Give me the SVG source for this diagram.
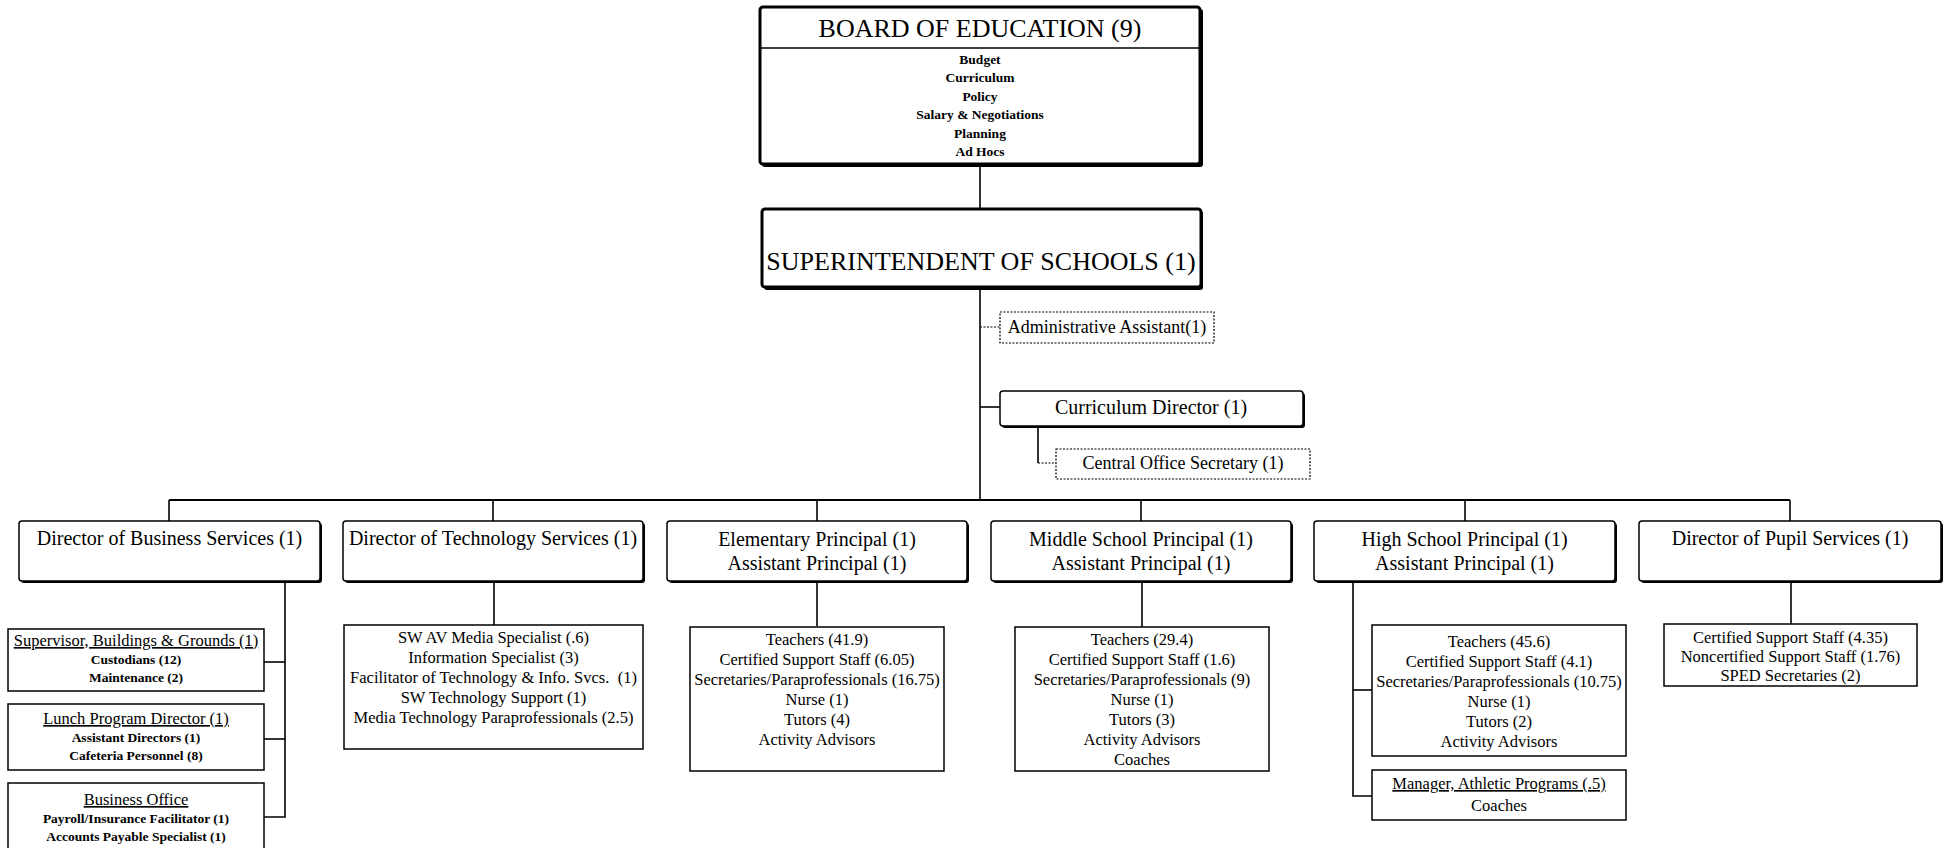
<svg xmlns="http://www.w3.org/2000/svg" width="1944" height="848" viewBox="0 0 1944 848">
<style>
text{font-family:"Liberation Serif","Times New Roman",serif;text-anchor:middle;fill:#000}
.bx{fill:#fff;stroke:#000;stroke-width:1.5}
.thk{fill:#fff;stroke:#000;stroke-width:3}
.sh{fill:#000}
.dsh{fill:#fff;stroke:#000;stroke-width:1.2;stroke-dasharray:2 1.5}
.ln{stroke:#000;stroke-width:1.6;fill:none}
.dl{stroke:#000;stroke-width:1.2;fill:none;stroke-dasharray:2 1.5}
.t26{font-size:26px}
.t20{font-size:20px}
.t18{font-size:18px}
.t16{font-size:16.5px}
.u16{font-size:16.5px;text-decoration:underline}
.b13{font-size:13.5px;font-weight:bold}
</style>
<rect width="1944" height="848" fill="#fff"/>
<g id="connectors">
<line class="ln" x1="980" y1="164" x2="980" y2="209"/>
<line class="ln" x1="980" y1="288" x2="980" y2="500"/>
<line class="dl" x1="980" y1="327" x2="1000" y2="327"/>
<line class="ln" x1="980" y1="407" x2="1000" y2="407"/>
<polyline class="ln" points="1038,427 1038,463"/>
<line class="dl" x1="1038" y1="463" x2="1056" y2="463"/>
<line class="ln" x1="169" y1="500" x2="1790" y2="500" style="stroke-width:2.2"/>
<line class="ln" x1="169" y1="500" x2="169" y2="521"/>
<line class="ln" x1="493" y1="500" x2="493" y2="521"/>
<line class="ln" x1="817" y1="500" x2="817" y2="521"/>
<line class="ln" x1="1141" y1="500" x2="1141" y2="521"/>
<line class="ln" x1="1465" y1="500" x2="1465" y2="521"/>
<line class="ln" x1="1790" y1="500" x2="1790" y2="521"/>
<polyline class="ln" points="285,582 285,817 264,817"/>
<line class="ln" x1="264" y1="662" x2="285" y2="662"/>
<line class="ln" x1="264" y1="739" x2="285" y2="739"/>
<line class="ln" x1="494" y1="582" x2="494" y2="626"/>
<line class="ln" x1="817" y1="582" x2="817" y2="626"/>
<line class="ln" x1="1142" y1="582" x2="1142" y2="627"/>
<polyline class="ln" points="1353,582 1353,796 1372,796"/>
<line class="ln" x1="1353" y1="690" x2="1372" y2="690"/>
<line class="ln" x1="1791" y1="582" x2="1791" y2="624"/>
</g>
<g id="board">
<rect class="sh" x="762" y="9" width="441" height="158" rx="3"/>
<rect class="thk" x="760" y="7" width="440" height="157" rx="3"/>
<line class="ln" x1="760" y1="48" x2="1200" y2="48"/>
<text class="t26" x="980" y="37">BOARD OF EDUCATION (9)</text>
<text class="b13" x="980" y="64">Budget</text>
<text class="b13" x="980" y="82">Curriculum</text>
<text class="b13" x="980" y="100.5">Policy</text>
<text class="b13" x="980" y="119">Salary &amp; Negotiations</text>
<text class="b13" x="980" y="137.5">Planning</text>
<text class="b13" x="980" y="156">Ad Hocs</text>
</g>
<g id="superintendent">
<rect class="sh" x="764" y="211" width="439" height="79" rx="3"/>
<rect class="thk" x="762" y="209" width="439" height="78" rx="3"/>
<text class="t26" x="981" y="270">SUPERINTENDENT OF SCHOOLS (1)</text>
</g>
<g id="admin-assistant">
<rect class="dsh" x="1000" y="312" width="214" height="31"/>
<text class="t18" x="1107" y="333">Administrative Assistant(1)</text>
</g>
<g id="curriculum-director">
<rect class="sh" x="1002" y="393" width="303" height="35" rx="3"/>
<rect class="bx" x="1000" y="391" width="303" height="35" rx="3"/>
<text class="t20" x="1151" y="414">Curriculum Director (1)</text>
</g>
<g id="central-office-secretary">
<rect class="dsh" x="1056" y="449" width="254" height="30"/>
<text class="t18" x="1183" y="469">Central Office Secretary (1)</text>
</g>
<g id="business-services">
<rect class="sh" x="21" y="523" width="301" height="60" rx="3"/>
<rect class="bx" x="19" y="521" width="301" height="60" rx="3"/>
<text class="t20" x="169.5" y="545">Director of Business Services (1)</text>
</g>
<g id="technology-services">
<rect class="sh" x="345" y="523" width="300" height="60" rx="3"/>
<rect class="bx" x="343" y="521" width="300" height="60" rx="3"/>
<text class="t20" x="493" y="545">Director of Technology Services (1)</text>
</g>
<g id="elementary-principal">
<rect class="sh" x="669" y="523" width="300" height="60" rx="3"/>
<rect class="bx" x="667" y="521" width="300" height="60" rx="3"/>
<text class="t20" x="817" y="546">Elementary Principal (1)</text>
<text class="t20" x="817" y="570">Assistant Principal (1)</text>
</g>
<g id="middle-principal">
<rect class="sh" x="993" y="523" width="300" height="60" rx="3"/>
<rect class="bx" x="991" y="521" width="300" height="60" rx="3"/>
<text class="t20" x="1141" y="546">Middle School Principal (1)</text>
<text class="t20" x="1141" y="570">Assistant Principal (1)</text>
</g>
<g id="high-principal">
<rect class="sh" x="1316" y="523" width="301" height="60" rx="3"/>
<rect class="bx" x="1314" y="521" width="301" height="60" rx="3"/>
<text class="t20" x="1464.5" y="546">High School Principal (1)</text>
<text class="t20" x="1464.5" y="570">Assistant Principal (1)</text>
</g>
<g id="pupil-services">
<rect class="sh" x="1641" y="523" width="302" height="60" rx="3"/>
<rect class="bx" x="1639" y="521" width="302" height="60" rx="3"/>
<text class="t20" x="1790" y="545">Director of Pupil Services (1)</text>
</g>
<g id="buildings-grounds">
<rect class="bx" x="8" y="629" width="256" height="62"/>
<text class="u16" x="136" y="646">Supervisor, Buildings &amp; Grounds (1)</text>
<text class="b13" x="136" y="664">Custodians (12)</text>
<text class="b13" x="136" y="682">Maintenance (2)</text>
</g>
<g id="lunch-program">
<rect class="bx" x="8" y="704" width="256" height="66"/>
<text class="u16" x="136" y="724">Lunch Program Director (1)</text>
<text class="b13" x="136" y="742">Assistant Directors (1)</text>
<text class="b13" x="136" y="760">Cafeteria Personnel (8)</text>
</g>
<g id="business-office">
<rect class="bx" x="8" y="783" width="256" height="70"/>
<text class="u16" x="136" y="805">Business Office</text>
<text class="b13" x="136" y="823">Payroll/Insurance Facilitator (1)</text>
<text class="b13" x="136" y="841">Accounts Payable Specialist (1)</text>
</g>
<g id="technology-staff">
<rect class="bx" x="344" y="625" width="299" height="124"/>
<text class="t16" x="493.5" y="643">SW AV Media Specialist (.6)</text>
<text class="t16" x="493.5" y="663">Information Specialist (3)</text>
<text class="t16" x="493.5" y="683" xml:space="preserve">Facilitator of Technology &amp; Info. Svcs.  (1)</text>
<text class="t16" x="493.5" y="703">SW Technology Support (1)</text>
<text class="t16" x="493.5" y="723">Media Technology Paraprofessionals (2.5)</text>
</g>
<g id="elementary-staff">
<rect class="bx" x="690" y="627" width="254" height="144"/>
<text class="t16" x="817" y="645">Teachers (41.9)</text>
<text class="t16" x="817" y="665">Certified Support Staff (6.05)</text>
<text class="t16" x="817" y="685">Secretaries/Paraprofessionals (16.75)</text>
<text class="t16" x="817" y="705">Nurse (1)</text>
<text class="t16" x="817" y="725">Tutors (4)</text>
<text class="t16" x="817" y="745">Activity Advisors</text>
</g>
<g id="middle-staff">
<rect class="bx" x="1015" y="627" width="254" height="144"/>
<text class="t16" x="1142" y="645">Teachers (29.4)</text>
<text class="t16" x="1142" y="665">Certified Support Staff (1.6)</text>
<text class="t16" x="1142" y="685">Secretaries/Paraprofessionals (9)</text>
<text class="t16" x="1142" y="705">Nurse (1)</text>
<text class="t16" x="1142" y="725">Tutors (3)</text>
<text class="t16" x="1142" y="745">Activity Advisors</text>
<text class="t16" x="1142" y="765">Coaches</text>
</g>
<g id="high-staff">
<rect class="bx" x="1372" y="625" width="254" height="131"/>
<text class="t16" x="1499" y="647">Teachers (45.6)</text>
<text class="t16" x="1499" y="667">Certified Support Staff (4.1)</text>
<text class="t16" x="1499" y="687">Secretaries/Paraprofessionals (10.75)</text>
<text class="t16" x="1499" y="707">Nurse (1)</text>
<text class="t16" x="1499" y="727">Tutors (2)</text>
<text class="t16" x="1499" y="747">Activity Advisors</text>
</g>
<g id="athletic-programs">
<rect class="bx" x="1372" y="770" width="254" height="50"/>
<text class="u16" x="1499" y="789">Manager, Athletic Programs (.5)</text>
<text class="t16" x="1499" y="811">Coaches</text>
</g>
<g id="pupil-staff">
<rect class="bx" x="1664" y="624" width="253" height="62"/>
<text class="t16" x="1790.5" y="643">Certified Support Staff (4.35)</text>
<text class="t16" x="1790.5" y="662">Noncertified Support Staff (1.76)</text>
<text class="t16" x="1790.5" y="681">SPED Secretaries (2)</text>
</g>
</svg>
